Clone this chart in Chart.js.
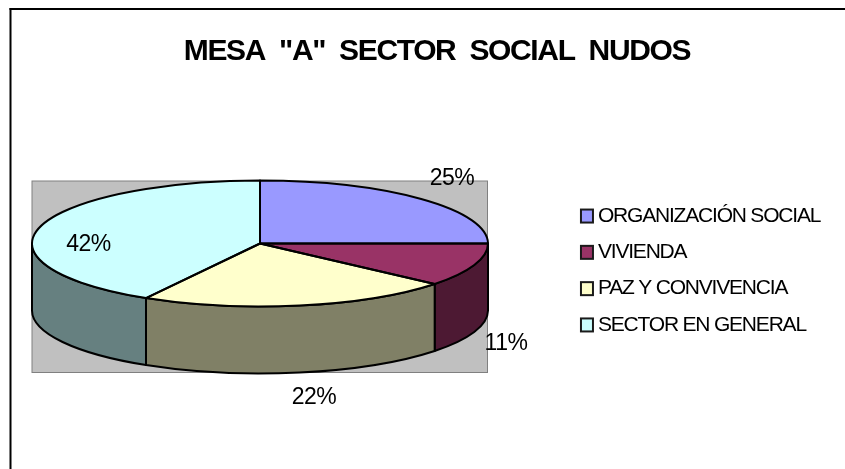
<!DOCTYPE html>
<html><head><meta charset="utf-8">
<style>html,body{margin:0;padding:0;background:#fff}canvas{display:block}</style>
<script src="https://cdn.jsdelivr.net/npm/chart.js@4"></script>
</head><body><canvas id="c" width="845" height="469"></canvas>
<script>
const titleText = 'MESA  "A"  SECTOR  SOCIAL  NUDOS';
const categories = ['ORGANIZACIÓN SOCIAL','VIVIENDA','PAZ Y CONVIVENCIA','SECTOR EN GENERAL'];
const values = [9,4,8,15];
const topColors = ['#9999FF','#993366','#FFFFCC','#CCFFFF'];
const sideColors = ['#4D4D80','#4D1933','#808066','#668080'];
const labelCenters = [[452,179],[506,344],[314,398],[88.5,245]];
const FONT = '"Liberation Sans", Arial, sans-serif';
const PIE = {cx:260, cy:243.5, rx:228, ry:63, depth:67};
const PLOT = {left:32, top:181, right:487.5, bottom:372.5};
const LEGEND_SHIFT_Y = 41;

function wrapDraw(box,sp,dy){
  if(!box||box.__wrapped) return;
  const d=box.draw;
  box.draw=function(){
    const c=this.ctx; const old=c.letterSpacing;
    c.save();
    c.translate(0,dy);
    c.letterSpacing=sp;
    d.apply(this,arguments);
    c.letterSpacing=old||'0px';
    c.restore();
  };
  box.__wrapped=true;
}

const pie3d = {
  id:'pie3d',
  beforeDraw(chart){
    wrapDraw(chart.titleBlock,'-1.35px',0);
    wrapDraw(chart.legend,'-1.2px',LEGEND_SHIFT_Y);
    const c = chart.ctx;
    c.save();
    c.fillStyle='#fff'; c.fillRect(0,0,845,469);
    c.fillStyle='#000';
    c.fillRect(9.5,8,2,461);
    c.fillRect(9.5,8,835.5,2);
    c.fillStyle='#C0C0C0';
    c.fillRect(PLOT.left,PLOT.top,PLOT.right-PLOT.left,PLOT.bottom-PLOT.top);
    c.strokeStyle='#808080'; c.lineWidth=1;
    c.strokeRect(PLOT.left,PLOT.top,PLOT.right-PLOT.left,PLOT.bottom-PLOT.top);
    c.restore();
  },
  beforeDatasetsDraw(chart){
    const c = chart.ctx, arcs = chart.getDatasetMeta(0).data, P = PIE;
    c.save();
    c.lineJoin='round'; c.lineWidth=2; c.strokeStyle='#000';
    arcs.forEach((a,i)=>{
      const s=Math.max(a.startAngle,0), e=Math.min(a.endAngle,Math.PI);
      if(e<=s) return;
      c.beginPath();
      c.ellipse(P.cx,P.cy,P.rx,P.ry,0,s,e);
      c.ellipse(P.cx,P.cy+P.depth,P.rx,P.ry,0,e,s,true);
      c.closePath();
      c.fillStyle=sideColors[i];
      c.fill(); c.stroke();
    });
    arcs.forEach(a=>{
      c.save();
      c.translate(P.cx,P.cy);
      c.scale(P.rx/a.outerRadius,P.ry/a.outerRadius);
      c.translate(-a.x,-a.y);
      a.draw(c,chart.chartArea);
      c.restore();
    });
    arcs.forEach(a=>{
      c.beginPath();
      c.moveTo(P.cx,P.cy);
      c.ellipse(P.cx,P.cy,P.rx,P.ry,0,a.startAngle,a.endAngle);
      c.closePath();
      c.stroke();
    });
    c.fillStyle='#000';
    c.font='23px '+FONT;
    c.letterSpacing='-0.5px';
    c.textAlign='center'; c.textBaseline='middle';
    const total = values.reduce((x,y)=>x+y,0);
    values.forEach((v,i)=>{
      c.fillText(Math.round(v/total*100)+'%',labelCenters[i][0],labelCenters[i][1]);
    });
    c.letterSpacing='0px';
    c.restore();
    return false;
  },
  afterDraw(chart){
    const c=chart.ctx;
    c.save();
    c.lineWidth=2; c.strokeStyle='#1a1a1a';
    chart.legend.legendHitBoxes.forEach((b,i)=>{
      const y=b.top+b.height/2-6.5+LEGEND_SHIFT_Y;
      c.fillStyle=topColors[i];
      c.fillRect(b.left+1,y,12,13);
      c.strokeRect(b.left+1,y,12,13);
    });
    c.restore();
  }
};

new Chart(document.getElementById('c'),{
  type:'pie',
  data:{labels:categories,datasets:[{data:values,backgroundColor:topColors,borderWidth:0}]},
  options:{
    responsive:false,animation:false,events:[],
    rotation:0,
    layout:{padding:{left:21,top:0,right:-8,bottom:10}},
    plugins:{
      tooltip:{enabled:false},
      title:{display:true,text:titleText,color:'#000',
        font:{family:FONT,size:30,weight:'bold'},padding:{top:34,bottom:20}},
      legend:{position:'right',align:'center',
        labels:{color:'#000',font:{family:FONT,size:21},boxWidth:7.5,boxHeight:13,padding:15.3,
          generateLabels(chart){
            return categories.map((t,i)=>({text:t,fillStyle:'rgba(0,0,0,0)',strokeStyle:'rgba(0,0,0,0)',lineWidth:0,index:i,fontColor:'#000'}));
          }}}
    }
  },
  plugins:[pie3d]
});
</script></body></html>
